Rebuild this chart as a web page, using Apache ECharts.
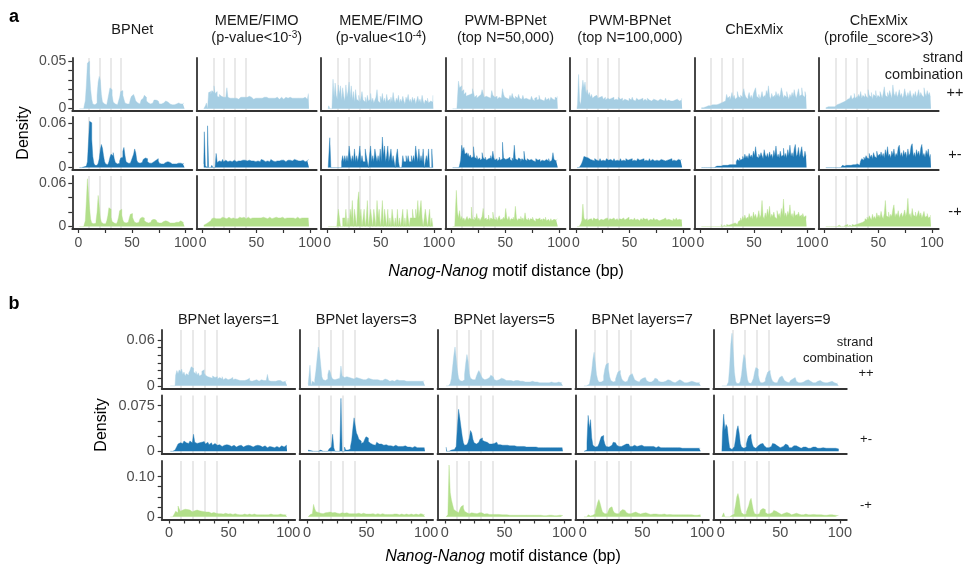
<!DOCTYPE html>
<html><head><meta charset="utf-8">
<script src="https://cdn.jsdelivr.net/npm/echarts@6/dist/echarts.min.js"></script>
<style>html,body{margin:0;padding:0;background:#fff}#c{width:968px;height:572px}</style>
</head><body><div id="c"></div>
<script>
// ---------------- DATA ----------------
// motif distance bins (bp)
const distance = [1,2,3,4,5,6,7,8,9,10,11,12,13,14,15,16,17,18,19,20,21,22,23,24,25,26,27,28,29,30,31,32,33,34,35,36,37,38,39,40,41,42,43,44,45,46,47,48,49,50,51,52,53,54,55,56,57,58,59,60,61,62,63,64,65,66,67,68,69,70,71,72,73,74,75,76,77,78,79,80,81,82,83,84,85,86,87,88,89,90,91,92,93,94,95,96,97,98,99];
const guideLines = [10, 20, 30, 40];
const strands = ['++', '+-', '-+'];
const xLabelVals = [0, 50, 100];
const aXTickVals = [0, 25, 50, 75, 100];
const bXTickVals = [0, 12.5, 25, 37.5, 50, 62.5, 75, 87.5, 100];

// densities in units of 0.001 (per mille), one value per distance bin
// ---- panel a ----
const a_bpnet_pp = [0,0,0,0,0,3,8,25,48,50,38,20,10,5,4,4,6,14,28,34,30,15,7,5,4,4,6,10,16,22,20,14,7,5,4,4,5,8,12,18,19,14,10,6,5,5,5,7,10,13,15,14,12,8,6,5,5,6,9,11,13,14,12,8,6,5,5,5,6,7,9,9,10,8,6,5,5,5,6,7,8,8,7,6,5,4,4,4,4,5,5,6,6,6,5,5,5,6,5];
const a_bpnet_pm = [0,0,0,0,1,1,2,3,8,35,62,60,38,15,6,3,3,4,6,12,24,31,26,16,8,5,4,5,8,14,18,16,20,12,7,5,5,6,9,13,14,22,27,16,8,6,5,6,8,10,14,18,25,20,10,7,6,6,7,9,11,13,15,12,8,6,5,6,7,8,9,10,11,12,9,6,5,5,5,6,7,8,8,7,7,5,5,4,5,6,5,5,6,7,6,7,5,5,6];
const a_bpnet_mp = [0,0,0,0,0,2,8,35,66,45,25,10,5,4,4,5,8,20,43,28,12,6,4,4,4,5,8,15,26,24,13,7,5,4,4,5,7,13,22,24,16,9,6,5,5,6,8,12,17,18,13,9,6,5,5,6,8,11,13,14,12,8,6,5,5,5,6,7,9,10,10,9,7,6,5,5,5,6,7,8,8,8,7,6,5,5,5,5,5,6,6,6,6,7,8,9,6,5,5];
const a_fimo3_pp = [0,0,3,6,0,17,18,15,19,17,24,16,18,13,12,15,13,14,12,13,12,11,22,12,11,12,11,12,11,12,11,12,10,11,12,11,12,11,12,10,12,11,13,11,12,11,10,12,11,12,11,13,11,12,11,10,12,11,12,10,11,12,11,10,11,12,11,10,12,11,10,11,12,11,10,11,12,10,11,11,12,10,11,12,11,10,11,12,11,10,11,12,11,10,12,11,10,12,16];
const a_fimo3_pm = [5,48,2,0,56,0,0,2,3,0,0,0,19,7,9,10,8,9,11,8,10,9,8,10,9,11,8,9,10,9,8,10,9,11,9,8,10,9,10,8,9,11,10,8,9,10,9,11,8,10,9,10,8,9,11,10,9,8,10,9,10,8,9,11,9,10,8,10,9,11,9,8,10,9,10,11,8,9,10,9,10,8,9,10,11,9,10,8,9,10,9,11,10,9,8,10,9,11,10];
const a_fimo3_mp = [2,3,4,5,6,7,8,9,11,12,10,11,12,11,12,11,12,13,11,12,12,11,12,13,12,11,12,12,13,11,12,11,12,13,12,12,11,13,12,11,12,13,12,11,12,12,13,12,11,12,13,12,11,12,12,13,11,12,12,11,12,13,12,11,12,12,11,13,12,12,11,12,12,13,12,11,12,12,11,12,13,12,11,12,12,11,12,13,12,11,12,12,11,12,13,12,11,12,12];
const a_fimo4_pp = [0,3,0,0,0,31,12,27,14,10,25,15,24,9,22,13,8,25,12,18,28,11,24,9,18,7,20,10,8,14,7,11,18,9,7,12,6,14,8,10,16,7,11,6,9,12,20,8,6,13,9,16,7,11,6,15,8,10,5,12,7,17,9,6,11,8,14,6,10,7,13,8,5,12,9,15,7,10,6,12,8,11,5,9,13,7,10,6,14,8,5,9,7,11,6,8,10,7,14];
const a_fimo4_pm = [0,0,40,0,0,0,0,0,0,0,0,0,0,8,16,8,16,8,16,8,29,16,8,16,8,25,8,16,8,16,29,8,16,8,8,25,16,8,0,16,29,8,16,8,25,16,8,16,8,25,8,41,16,29,8,16,29,8,16,25,8,16,8,0,16,25,8,0,0,0,16,8,8,16,8,16,8,8,16,8,16,8,29,16,8,25,8,16,8,25,0,8,16,8,25,0,0,25,0];
const a_fimo4_mp = [0,0,0,0,0,0,0,0,0,0,24,12,0,0,12,12,0,24,0,12,0,24,12,36,0,24,12,0,36,48,12,24,0,12,24,0,12,36,0,12,24,12,0,24,12,0,36,12,24,0,12,36,0,24,12,0,24,0,12,0,24,12,0,12,0,24,0,12,0,12,24,0,12,0,24,12,0,12,12,24,12,12,24,12,36,12,24,36,12,0,12,24,12,0,12,24,0,12,0];
const a_pwm50_pp = [0,0,0,0,0,10,29,22,24,18,20,15,17,13,14,12,15,13,16,21,17,12,14,11,13,12,15,13,20,16,12,13,11,12,14,11,13,19,14,12,11,13,10,12,14,11,13,21,15,12,11,13,10,12,14,11,16,12,10,13,11,12,15,11,10,12,14,10,11,13,10,12,9,11,13,10,8,11,12,9,10,14,10,9,11,8,10,12,9,11,10,8,12,10,11,9,12,11,13];
const a_pwm50_pm = [0,0,0,0,0,0,0,3,10,30,22,27,18,20,16,19,14,17,13,15,28,14,12,16,11,13,10,12,20,13,11,14,10,12,11,13,16,11,22,13,10,12,9,11,14,10,12,34,13,11,9,12,10,14,11,9,13,10,30,12,10,9,13,11,8,12,10,22,11,9,12,10,8,11,13,9,10,8,12,10,9,11,8,10,12,9,8,11,10,9,12,8,10,9,20,11,9,10,8];
const a_pwm50_mp = [0,0,0,0,50,20,12,22,10,14,9,12,8,11,14,9,12,10,27,11,9,13,10,18,9,12,8,11,14,25,10,12,9,11,16,8,12,10,20,11,9,13,8,12,15,9,11,8,13,10,25,12,9,14,8,11,10,13,9,28,12,8,11,10,14,9,12,8,19,10,9,12,8,11,10,13,9,7,11,10,8,12,9,10,7,11,9,13,8,10,9,7,11,8,10,12,9,10,11];
const a_pwm100_pp = [0,5,36,8,4,20,30,22,28,16,20,14,17,12,15,11,13,12,14,16,11,12,10,13,11,10,12,9,11,13,10,9,11,10,12,9,10,11,9,12,10,9,11,8,10,12,9,10,8,11,9,10,12,9,8,10,11,9,8,10,9,11,8,10,9,8,11,9,10,8,9,10,8,9,11,8,9,10,8,9,10,8,9,11,8,9,10,8,9,8,10,9,8,10,9,8,10,9,11];
const a_pwm100_pm = [0,0,0,0,3,6,10,15,14,16,13,12,11,12,10,11,9,12,10,11,9,10,12,9,10,11,9,10,12,10,9,11,10,9,11,12,9,10,11,9,10,12,9,10,11,9,12,10,9,11,10,12,9,10,11,9,10,12,10,9,11,10,12,9,10,11,9,10,12,9,11,10,9,11,10,12,9,10,11,9,10,12,9,11,10,9,11,10,12,9,10,11,9,10,11,9,10,11,9];
const a_pwm100_mp = [0,0,0,0,4,8,31,12,9,11,8,10,9,11,10,8,12,10,9,11,10,8,10,12,9,10,11,9,12,10,8,11,10,9,12,10,9,11,10,8,11,10,9,12,10,9,11,10,13,9,10,11,9,10,12,9,10,11,8,10,11,9,12,10,9,11,10,8,10,11,9,10,12,9,10,11,8,10,9,11,10,9,12,10,9,10,11,9,10,8,11,9,10,12,9,10,11,9,10];
const a_chex_pp = [1,1,1,2,2,2,3,2,3,3,4,3,4,5,4,6,5,7,6,8,7,9,8,10,15,11,13,9,12,17,11,14,10,12,18,13,11,14,12,16,21,15,12,10,13,17,11,14,10,16,19,22,13,11,15,10,13,18,12,14,11,19,15,24,13,10,16,12,14,11,18,13,16,12,15,22,17,11,14,12,18,13,10,15,12,17,13,20,14,11,16,21,13,15,22,14,12,18,13];
const a_chex_pm = [0,0,0,0,0,0,0,0,0,0,0,0,0,0,2,3,2,3,2,3,3,2,3,4,3,3,4,3,4,3,4,5,4,8,11,9,13,10,12,15,11,18,13,16,12,19,14,17,13,22,16,28,15,13,18,14,20,16,12,24,17,14,19,13,21,15,18,12,23,16,29,14,18,13,22,15,17,26,14,19,13,24,16,30,15,20,14,25,31,15,18,27,14,21,28,16,13,22,15];
const a_chex_mp = [0,2,0,0,0,0,0,0,0,0,0,2,0,2,0,0,0,0,0,3,0,2,3,0,3,2,4,3,2,4,3,5,4,3,5,7,9,12,8,14,10,16,11,13,9,18,12,15,10,20,13,17,11,14,22,12,16,36,14,11,19,13,24,15,28,12,17,14,20,13,11,22,15,18,12,25,16,38,14,19,13,21,16,30,14,18,12,22,15,17,13,20,14,16,12,18,13,15,11];
const a_chex3_pp = [1,1,2,1,2,3,2,3,2,3,4,3,5,4,6,5,7,6,8,7,10,8,11,9,14,10,12,16,11,13,10,15,12,18,11,14,12,16,13,11,20,14,12,17,10,15,13,19,11,14,12,18,15,11,16,23,14,12,17,13,19,15,11,25,16,13,18,12,15,20,13,16,11,14,21,15,12,17,13,19,14,11,16,13,18,12,15,20,13,17,14,12,22,16,13,19,14,17,12];
const a_chex3_pm = [0,0,0,0,0,0,0,0,0,0,0,0,0,0,0,2,3,2,3,3,2,3,4,3,3,4,3,4,3,5,4,3,5,9,12,10,14,11,16,13,12,19,14,17,12,20,15,13,22,16,18,14,21,15,19,13,24,16,28,15,18,13,22,17,25,14,19,16,27,30,15,20,14,23,17,21,13,25,16,19,29,32,15,20,14,24,17,22,15,26,31,16,19,14,23,17,25,13,18];
const a_chex3_mp = [0,2,0,0,0,0,0,0,0,0,0,0,2,0,0,0,0,0,2,0,3,0,2,3,0,3,2,4,3,2,4,3,5,4,6,5,8,11,9,13,10,15,12,9,17,11,14,10,19,13,16,12,21,14,11,18,36,15,13,20,12,17,14,24,30,13,18,15,22,12,16,19,13,17,23,14,20,39,15,18,12,25,16,14,20,13,17,22,14,19,12,16,21,13,15,18,12,14,16];

// ---- panel b ----
const b_l1_pp = [0,0,0,0,0,14,20,16,21,18,22,15,18,13,16,14,17,20,25,23,18,16,19,14,17,13,15,19,21,17,14,12,13,11,12,10,13,11,10,12,9,11,10,9,12,8,10,9,8,10,9,8,11,8,9,7,8,10,7,8,7,9,7,6,8,7,10,7,6,8,7,6,8,7,6,7,8,6,7,6,7,8,15,7,6,7,6,7,6,5,7,6,7,6,5,7,6,7,6];
const b_l1_pm = [0,0,0,1,2,4,8,12,14,16,13,15,17,14,16,13,15,17,14,16,28,15,13,16,14,12,15,13,16,14,12,15,13,11,14,12,10,13,11,12,10,9,11,10,8,10,9,11,8,9,10,8,9,10,8,9,7,9,8,10,8,9,7,9,8,10,8,7,9,8,7,9,8,10,7,8,9,7,8,9,7,8,6,8,9,7,8,6,7,8,7,6,8,7,9,7,8,10,8];
const b_l1_mp = [0,0,0,0,8,14,10,27,20,14,17,15,19,16,18,14,17,15,16,13,15,14,17,13,15,12,14,16,13,15,12,11,12,10,11,9,10,11,9,10,8,9,8,10,7,8,9,7,8,7,6,8,7,6,7,8,6,7,5,7,6,5,7,6,5,6,7,5,6,5,6,7,5,6,5,6,5,7,5,6,5,6,5,6,7,5,6,5,6,5,6,5,6,7,5,6,5,6,5];
const b_l3_pp = [2,0,27,0,6,4,8,20,36,51,44,28,12,8,7,6,9,15,21,18,12,9,8,7,9,8,10,12,26,13,11,10,12,10,11,9,10,12,9,10,11,9,10,8,9,10,8,9,8,9,10,8,9,7,8,9,8,7,8,9,7,8,7,8,9,7,8,7,6,8,7,8,6,7,8,6,7,6,7,6,7,8,6,7,6,7,6,5,6,7,6,5,6,7,6,5,6,7,6];
const b_l3_pm = [2,2,1,2,0,0,0,0,0,2,3,2,0,0,0,0,0,0,4,7,10,28,6,0,0,3,0,0,87,0,0,7,2,2,3,4,8,18,38,55,42,30,26,20,17,13,12,15,20,24,22,16,13,12,11,12,10,13,15,12,11,12,10,11,10,9,11,10,9,10,9,10,8,9,10,8,9,8,9,8,7,9,8,7,8,7,8,6,7,8,6,7,6,7,6,7,6,7,6];
const b_l3_mp = [0,3,5,8,12,31,20,13,11,10,9,10,8,9,10,9,11,9,10,12,10,9,11,10,9,10,8,9,10,11,9,8,10,9,8,9,8,10,9,8,9,8,7,9,8,7,8,9,7,8,7,8,7,6,8,7,6,7,8,6,7,6,7,8,6,7,6,7,6,7,6,5,7,6,7,6,5,6,7,6,5,6,7,6,5,6,7,6,5,6,7,6,5,6,8,6,7,6,5];
const b_l5_pp = [0,0,0,0,3,10,25,40,51,36,20,10,7,6,6,8,15,30,41,32,16,10,8,7,8,10,13,17,20,17,13,10,8,8,9,10,11,13,14,12,10,8,7,7,8,9,10,10,9,8,7,7,7,8,7,7,6,7,7,6,7,6,6,5,6,6,5,6,5,6,5,5,6,5,5,4,5,5,4,5,4,5,4,5,4,5,4,4,5,4,4,5,4,4,5,4,4,5,4];
const b_l5_pm = [7,0,0,1,2,2,3,3,4,8,40,69,55,40,25,14,10,9,11,15,22,34,30,20,14,12,13,15,18,20,22,18,16,14,13,15,14,12,13,12,11,13,12,15,11,10,11,12,10,11,10,9,10,11,9,10,9,8,9,10,8,9,8,9,8,7,8,9,7,8,7,8,7,8,7,6,7,8,6,7,6,7,6,7,6,5,6,7,6,5,6,5,6,5,6,5,6,5,6];
const b_l5_mp = [0,0,5,129,60,42,30,18,14,12,10,12,18,25,29,22,14,10,9,8,9,10,12,11,9,8,8,9,10,11,10,8,7,7,8,7,6,7,6,6,7,6,5,6,5,6,5,5,6,5,4,5,5,4,5,4,5,4,4,5,4,4,5,4,4,3,4,4,3,4,4,3,4,3,4,3,4,3,4,3,4,3,3,4,3,3,4,3,3,4,3,3,4,3,3,4,3,3,3];
const b_l7_pp = [0,0,0,1,2,4,10,20,35,44,30,15,8,5,5,5,7,13,22,28,30,22,12,7,5,5,6,9,14,18,20,16,10,7,5,5,6,8,11,14,16,15,12,8,6,5,5,6,8,10,12,11,9,7,5,5,5,6,7,9,10,9,8,6,5,5,5,5,6,7,8,8,7,6,5,4,4,5,6,7,8,7,6,5,4,4,4,4,5,5,6,6,5,5,4,4,4,5,4];
const b_l7_pm = [0,0,2,15,59,38,52,22,10,7,6,6,8,12,18,24,26,20,12,8,7,7,8,10,13,15,16,14,10,8,7,7,8,10,11,12,11,12,10,8,7,8,9,10,8,7,9,8,10,9,8,7,8,9,8,7,8,7,8,7,6,7,8,7,6,7,6,7,6,7,6,5,6,7,6,5,6,5,6,5,6,7,5,6,5,6,5,5,6,5,5,4,5,6,5,4,5,4,5];
const b_l7_mp = [0,3,0,0,5,2,3,4,5,8,14,24,36,43,34,22,12,8,7,8,11,16,22,25,22,15,10,8,7,8,10,14,18,21,20,16,11,8,7,7,8,10,12,12,11,9,8,7,7,8,9,10,10,9,8,7,6,6,7,8,8,7,6,6,5,6,7,7,6,5,5,6,6,5,5,6,5,5,6,5,4,5,5,4,5,5,4,5,4,5,4,5,4,4,5,4,4,5,4];
const b_l9_pp = [0,0,0,0,0,1,5,25,55,69,45,18,6,3,3,3,6,15,30,41,36,20,8,4,3,4,6,10,18,24,22,14,7,4,4,4,6,9,14,18,20,17,10,6,4,4,4,6,8,11,13,13,10,7,5,4,4,5,7,9,11,11,9,6,4,4,4,4,5,6,7,8,8,7,6,5,4,4,4,5,6,7,7,6,5,4,4,3,4,4,5,5,6,5,4,4,3,4,3];
const b_l9_pm = [0,30,61,35,44,40,20,6,3,3,4,8,20,35,42,30,13,7,5,5,7,12,20,25,28,22,12,7,5,5,6,9,12,14,15,13,9,6,5,5,6,8,11,13,14,12,9,7,6,6,6,8,10,11,12,10,8,6,5,6,7,9,10,9,7,6,5,5,6,7,8,7,6,5,5,6,7,8,8,7,6,5,5,5,6,6,5,5,6,6,5,4,5,5,4,4,5,4,4];
const b_l9_mp = [0,0,10,0,0,0,0,2,3,4,7,15,30,50,58,45,22,10,6,5,7,12,20,28,40,46,30,15,8,6,6,8,12,17,21,23,18,11,7,6,6,8,11,14,16,17,14,10,7,6,6,7,9,11,12,11,9,7,6,5,6,7,8,9,8,7,6,5,5,6,7,7,6,5,5,5,6,6,5,5,4,5,5,6,5,4,4,5,4,4,5,4,4,5,4,4,4,3,4];

// panel titles and tick labels
const aTitles = [
  ['BPNet'],
  ['MEME/FIMO', '{n|(p-value<10}{s|-3}{n|)}'],
  ['MEME/FIMO', '{n|(p-value<10}{s|-4}{n|)}'],
  ['PWM-BPNet', '(top N=50,000)'],
  ['PWM-BPNet', '(top N=100,000)'],
  ['ChExMix'],
  ['ChExMix', '(profile_score>3)']
];
const bTitles = ['BPNet layers=1', 'BPNet layers=3', 'BPNet layers=5', 'BPNet layers=7', 'BPNet layers=9'];
const aColumns = [
  [a_bpnet_pp, a_bpnet_pm, a_bpnet_mp],
  [a_fimo3_pp, a_fimo3_pm, a_fimo3_mp],
  [a_fimo4_pp, a_fimo4_pm, a_fimo4_mp],
  [a_pwm50_pp, a_pwm50_pm, a_pwm50_mp],
  [a_pwm100_pp, a_pwm100_pm, a_pwm100_mp],
  [a_chex_pp, a_chex_pm, a_chex_mp],
  [a_chex3_pp, a_chex3_pm, a_chex3_mp]
];
const bColumns = [
  [b_l1_pp, b_l1_pm, b_l1_mp],
  [b_l3_pp, b_l3_pm, b_l3_mp],
  [b_l5_pp, b_l5_pm, b_l5_mp],
  [b_l7_pp, b_l7_pm, b_l7_mp],
  [b_l9_pp, b_l9_pm, b_l9_mp]
];
const aYRange = [[-0.0025, 0.0534], [-0.0032, 0.0678], [-0.0033, 0.0698]];
const bYRange = [[-0.0035, 0.0733], [-0.0044, 0.0917], [-0.0066, 0.139]];
const aYLabelVals = [0.05, 0.06, 0.06];
const aYLabelText = ['0.05', '0.06', '0.06'];
const bYLabelVals = [0.06, 0.075, 0.10];
const bYLabelText = ['0.06', '0.075', '0.10'];
const aYTickVals = [[0, 0.01, 0.02, 0.03, 0.04, 0.05], [0, 0.02, 0.04, 0.06], [0, 0.02, 0.04, 0.06]];
const bYTickVals = [[0, 0.01, 0.02, 0.03, 0.04, 0.05, 0.06], [0, 0.025, 0.05, 0.075], [0, 0.025, 0.05, 0.075, 0.10]];

// ---------------- STYLE / LAYOUT ----------------
const FONT = "'Liberation Sans', Arial, Helvetica, sans-serif";
const COLORS = ['#a6cee3', '#1f78b4', '#b2df8a'];
const AXIS = '#333333';
const LAYOUT_A = { left0: 72.3, pitch: 124.4, width: 120, tops: [58, 117, 176], height: 53, xMin: -5.6, xMax: 106.2, fs: 14, xMargin: 7, yMargin: 6 };
const LAYOUT_B = { left0: 161.7, pitch: 137.9, width: 133.5, tops: [330, 395.5, 461], height: 58.5, xMin: -6.2, xMax: 105.8, fs: 14.5, xMargin: 6, yMargin: 7 };

const grids = [], xAxes = [], yAxes = [], series = [];

function addPanel(L, c, r, values, yRange, yTickVals, yLabelVal, yLabelText, xTickVals) {
  const i = grids.length;
  const bottomRow = r === 2, firstCol = c === 0;
  grids.push({ left: L.left0 + L.pitch * c, top: L.tops[r], width: L.width, height: L.height, containLabel: false, outerBoundsMode: 'none' });
  xAxes.push({
    type: 'value', gridIndex: i, min: L.xMin, max: L.xMax, z: 4,
    axisLine: { show: true, onZero: false, lineStyle: { color: AXIS, width: 1.8 } },
    axisTick: { show: bottomRow, customValues: xTickVals, length: 4, lineStyle: { color: AXIS, width: 1.2 } },
    axisLabel: { show: bottomRow, customValues: xLabelVals, color: '#4d4d4d', fontSize: L.fs, fontFamily: FONT, margin: L.xMargin },
    splitLine: { show: false }
  });
  yAxes.push({
    type: 'value', gridIndex: i, min: yRange[0], max: yRange[1], z: 4,
    axisLine: { show: true, onZero: false, lineStyle: { color: AXIS, width: 1.8 } },
    axisTick: { show: firstCol, customValues: yTickVals, length: 4, lineStyle: { color: AXIS, width: 1.2 } },
    axisLabel: { show: firstCol, customValues: [0, yLabelVal], formatter: v => (v === 0 ? '0' : yLabelText), color: '#4d4d4d', fontSize: L.fs, fontFamily: FONT, margin: L.yMargin },
    splitLine: { show: false }
  });
  // faint guide lines at 10, 20, 30, 40 bp (drawn behind the histogram)
  series.push({
    type: 'line', xAxisIndex: i, yAxisIndex: i, data: [], z: 1, silent: true,
    markLine: { silent: true, z: 1, symbol: ['none', 'none'], label: { show: false }, animation: false,
      lineStyle: { color: '#e4e4e4', width: 1.6, type: 'solid' },
      emphasis: { disabled: true },
      data: guideLines.map(v => ({ xAxis: v })) }
  });
  series.push({
    type: 'line', xAxisIndex: i, yAxisIndex: i, z: 3, silent: true, step: 'middle', symbol: 'none',
    data: distance.map((d, k) => [d, values[k] / 1000]),
    lineStyle: { width: 0.4, color: COLORS[r] },
    areaStyle: { color: COLORS[r], opacity: 1 },
    emphasis: { disabled: true }
  });
}

aColumns.forEach((col, c) => col.forEach((vals, r) =>
  addPanel(LAYOUT_A, c, r, vals, aYRange[r], aYTickVals[r], aYLabelVals[r], aYLabelText[r], aXTickVals)));
bColumns.forEach((col, c) => col.forEach((vals, r) =>
  addPanel(LAYOUT_B, c, r, vals, bYRange[r], bYTickVals[r], bYLabelVals[r], bYLabelText[r], bXTickVals)));

// ---------------- TEXT ----------------
const graphics = [];
function txt(x, y, text, o) {
  o = o || {};
  graphics.push({
    type: 'text', x: x, y: y, rotation: o.rot || 0, silent: true,
    style: {
      text: text, fill: o.color || '#1a1a1a', fontSize: o.fs || 14.5, fontFamily: FONT,
      fontWeight: o.bold ? 'bold' : 'normal',
      textAlign: o.align || 'center', textVerticalAlign: 'middle', verticalAlign: 'middle',
      rich: o.rich
    }
  });
}
const supRich = {
  n: { fontSize: 14.5, fontFamily: FONT, fill: '#1a1a1a' },
  s: { fontSize: 10, fontFamily: FONT, fill: '#1a1a1a', verticalAlign: 'top' }
};
const italRich = { i: { fontSize: 16, fontFamily: FONT, fontStyle: 'italic', fill: '#000' } };

// panel labels
txt(14, 17, 'a', { bold: true, fs: 18, color: '#000' });
txt(14, 304, 'b', { bold: true, fs: 18, color: '#000' });

// strip titles
aTitles.forEach((t, c) => {
  const cx = LAYOUT_A.left0 + LAYOUT_A.pitch * c + LAYOUT_A.width / 2;
  if (t.length === 1) txt(cx, 30, t[0]);
  else { txt(cx, 20.5, t[0]); txt(cx, 37.5, t[1], { rich: supRich }); }
});
bTitles.forEach((t, c) => {
  const cx = LAYOUT_B.left0 + LAYOUT_B.pitch * c + LAYOUT_B.width / 2;
  txt(cx, 320, t);
});

// strand labels
txt(963, 58, 'strand', { align: 'right' });
txt(963, 75, 'combination', { align: 'right' });
[93, 155, 212].forEach((y, r) => txt(955, y, strands[r]));
txt(873, 342, 'strand', { align: 'right', fs: 13 });
txt(873, 358, 'combination', { align: 'right', fs: 13 });
[373, 439, 505].forEach((y, r) => txt(866, y, strands[r], { fs: 13 }));

// axis titles
txt(506, 272, '{i|Nanog-Nanog} motif distance (bp)', { fs: 16, color: '#000', rich: italRich });
txt(503, 557, '{i|Nanog-Nanog} motif distance (bp)', { fs: 16, color: '#000', rich: italRich });
txt(24, 133, 'Density', { fs: 16, color: '#000', rot: Math.PI / 2 });
txt(102, 425, 'Density', { fs: 16, color: '#000', rot: Math.PI / 2 });

const chart = echarts.init(document.getElementById('c'), null, { renderer: 'canvas' });
chart.setOption({
  animation: false,
  backgroundColor: '#ffffff',
  grid: grids, xAxis: xAxes, yAxis: yAxes, series: series,
  graphic: graphics
});
</script>
</body></html>
